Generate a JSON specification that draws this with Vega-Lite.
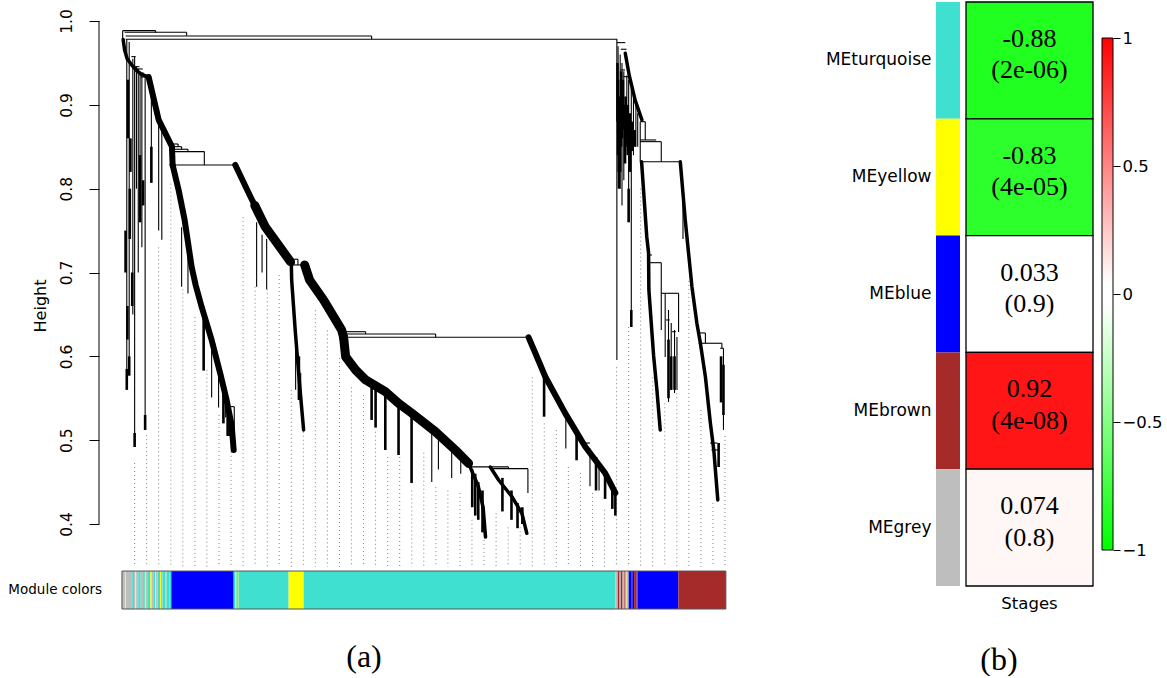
{
  "$schema": "https://vega.github.io/schema/vega-lite/v6.json",
  "background": "white",
  "padding": {"left": 8, "top": 1, "right": 5, "bottom": 0},
  "autosize": {"type": "pad"},
  "config": {
    "view": {"stroke": null},
    "axis": {"labelFont": "DejaVu Sans", "titleFont": "DejaVu Sans", "labelColor": "black", "titleColor": "black"}
  },
  "datasets": {
    "guides": [
      {"p": 21, "h": 0.4728}, {"p": 41, "h": 0.506}, {"p": 60.9, "h": 0.73}, {"p": 80.9, "h": 0.806},
      {"p": 100.8, "h": 0.68}, {"p": 120.8, "h": 0.647}, {"p": 140.7, "h": 0.584}, {"p": 160.7, "h": 0.53},
      {"p": 180.6, "h": 0.486}, {"p": 200.6, "h": 0.766}, {"p": 220.5, "h": 0.683}, {"p": 240.5, "h": 0.68},
      {"p": 260.4, "h": 0.697}, {"p": 280.4, "h": 0.56}, {"p": 300.3, "h": 0.51}, {"p": 320.3, "h": 0.655},
      {"p": 340.2, "h": 0.631}, {"p": 360.2, "h": 0.598}, {"p": 380.1, "h": 0.563}, {"p": 400.1, "h": 0.554},
      {"p": 420, "h": 0.51}, {"p": 440, "h": 0.48}, {"p": 459.9, "h": 0.48}, {"p": 479.9, "h": 0.44},
      {"p": 499.8, "h": 0.485}, {"p": 519.8, "h": 0.444}, {"p": 539.7, "h": 0.44}, {"p": 559.7, "h": 0.437},
      {"p": 579.6, "h": 0.405}, {"p": 599.6, "h": 0.381}, {"p": 619.5, "h": 0.413}, {"p": 639.5, "h": 0.396},
      {"p": 659.4, "h": 0.396}, {"p": 679.4, "h": 0.575}, {"p": 699.3, "h": 0.52}, {"p": 719.3, "h": 0.512},
      {"p": 739.2, "h": 0.468}, {"p": 759.2, "h": 0.461}, {"p": 779.1, "h": 0.437}, {"p": 799.1, "h": 0.417},
      {"p": 819, "h": 0.587}, {"p": 839, "h": 0.635}, {"p": 858.9, "h": 0.8}, {"p": 878.9, "h": 0.575},
      {"p": 898.8, "h": 0.544}, {"p": 918.8, "h": 0.556}, {"p": 938.7, "h": 0.69}, {"p": 958.7, "h": 0.536},
      {"p": 978.6, "h": 0.425}, {"p": 998.6, "h": 0.505}
    ],
    "links": [
      {"p": 1.2, "h": 0.9885, "p2": 55.8, "h2": 0.9885},
      {"p": 1.2, "h": 0.9885, "p2": 1.2, "h2": 0.972},
      {"p": 55.8, "h": 0.9885, "p2": 55.8, "h2": 0.986},
      {"p": 4.5, "h": 0.9866, "p2": 107.1, "h2": 0.9866},
      {"p": 107.1, "h": 0.9866, "p2": 107.1, "h2": 0.9825},
      {"p": 6.1, "h": 0.9822, "p2": 413.4, "h2": 0.9822},
      {"p": 413.4, "h": 0.9822, "p2": 413.4, "h2": 0.9782},
      {"p": 6.1, "h": 0.9782, "p2": 820, "h2": 0.9782},
      {"p": 8, "h": 0.978, "p2": 8, "h2": 0.56},
      {"p": 12, "h": 0.975, "p2": 12, "h2": 0.577},
      {"p": 18, "h": 0.955, "p2": 18, "h2": 0.65},
      {"p": 21, "h": 0.9575, "p2": 21, "h2": 0.4919},
      {"p": 24, "h": 0.945, "p2": 24, "h2": 0.8},
      {"p": 27, "h": 0.943, "p2": 27, "h2": 0.7},
      {"p": 30, "h": 0.94, "p2": 30, "h2": 0.76},
      {"p": 33, "h": 0.938, "p2": 33, "h2": 0.73},
      {"p": 38.4, "h": 0.936, "p2": 38.4, "h2": 0.5122},
      {"p": 48.7, "h": 0.925, "p2": 48.7, "h2": 0.807},
      {"p": 60.8, "h": 0.894, "p2": 60.8, "h2": 0.75},
      {"p": 66, "h": 0.875, "p2": 66, "h2": 0.739},
      {"p": 15.6, "h": 0.9575, "p2": 22.7, "h2": 0.9575},
      {"p": 17.7, "h": 0.9455, "p2": 28.8, "h2": 0.9455},
      {"p": 25, "h": 0.9428, "p2": 34.3, "h2": 0.9428},
      {"p": 28.8, "h": 0.938, "p2": 35.9, "h2": 0.938},
      {"p": 31, "h": 0.9332, "p2": 44.2, "h2": 0.9332},
      {"p": 82.8, "h": 0.8533, "p2": 93, "h2": 0.8533},
      {"p": 93, "h": 0.8533, "p2": 93, "h2": 0.8501},
      {"p": 84, "h": 0.8501, "p2": 98.8, "h2": 0.8501},
      {"p": 98.8, "h": 0.8501, "p2": 98.8, "h2": 0.847},
      {"p": 86, "h": 0.847, "p2": 109.3, "h2": 0.847},
      {"p": 109.3, "h": 0.847, "p2": 109.3, "h2": 0.8442},
      {"p": 84, "h": 0.8442, "p2": 136.4, "h2": 0.8442},
      {"p": 136.4, "h": 0.8442, "p2": 136.4, "h2": 0.8283},
      {"p": 83.9, "h": 0.8283, "p2": 187.7, "h2": 0.8283},
      {"p": 98.8, "h": 0.754, "p2": 98.8, "h2": 0.683},
      {"p": 109.3, "h": 0.731, "p2": 109.3, "h2": 0.675},
      {"p": 148.5, "h": 0.617, "p2": 148.5, "h2": 0.551},
      {"p": 160, "h": 0.58, "p2": 160, "h2": 0.539},
      {"p": 171.7, "h": 0.556, "p2": 171.7, "h2": 0.527},
      {"p": 146, "h": 0.617, "p2": 152, "h2": 0.617},
      {"p": 178, "h": 0.54, "p2": 186, "h2": 0.54},
      {"p": 186, "h": 0.54, "p2": 186, "h2": 0.51},
      {"p": 223, "h": 0.76, "p2": 223, "h2": 0.683},
      {"p": 232, "h": 0.745, "p2": 232, "h2": 0.7},
      {"p": 239.6, "h": 0.74, "p2": 239.6, "h2": 0.68},
      {"p": 278.8, "h": 0.7158, "p2": 291.4, "h2": 0.7158},
      {"p": 291.4, "h": 0.7158, "p2": 291.4, "h2": 0.709},
      {"p": 280.5, "h": 0.709, "p2": 302.5, "h2": 0.709},
      {"p": 287.6, "h": 0.62, "p2": 287.6, "h2": 0.56},
      {"p": 296, "h": 0.58, "p2": 296, "h2": 0.555},
      {"p": 363.7, "h": 0.6294, "p2": 403.5, "h2": 0.6294},
      {"p": 403.5, "h": 0.6294, "p2": 403.5, "h2": 0.6267},
      {"p": 367, "h": 0.6267, "p2": 519.4, "h2": 0.6267},
      {"p": 519.4, "h": 0.6267, "p2": 519.4, "h2": 0.6227},
      {"p": 367, "h": 0.6227, "p2": 673.3, "h2": 0.6227},
      {"p": 571, "h": 0.4682, "p2": 640, "h2": 0.4682},
      {"p": 640, "h": 0.4682, "p2": 640, "h2": 0.466},
      {"p": 610, "h": 0.466, "p2": 672.2, "h2": 0.466},
      {"p": 672.2, "h": 0.466, "p2": 672.2, "h2": 0.437},
      {"p": 513, "h": 0.51, "p2": 513, "h2": 0.45},
      {"p": 524, "h": 0.5, "p2": 524, "h2": 0.465},
      {"p": 546, "h": 0.49, "p2": 546, "h2": 0.455},
      {"p": 561, "h": 0.48, "p2": 561, "h2": 0.46},
      {"p": 735, "h": 0.53, "p2": 735, "h2": 0.49},
      {"p": 775, "h": 0.49, "p2": 775, "h2": 0.445},
      {"p": 790, "h": 0.475, "p2": 790, "h2": 0.44},
      {"p": 767, "h": 0.4966, "p2": 775, "h2": 0.4966},
      {"p": 819.5, "h": 0.9782, "p2": 819.5, "h2": 0.5957},
      {"p": 819.5, "h": 0.9742, "p2": 833.4, "h2": 0.9742},
      {"p": 826, "h": 0.9663, "p2": 835.5, "h2": 0.9663},
      {"p": 825, "h": 0.9416, "p2": 833, "h2": 0.9416},
      {"p": 830, "h": 0.9336, "p2": 838.8, "h2": 0.9336},
      {"p": 821.5, "h": 0.97, "p2": 821.5, "h2": 0.82},
      {"p": 825, "h": 0.96, "p2": 825, "h2": 0.8},
      {"p": 828, "h": 0.95, "p2": 828, "h2": 0.78},
      {"p": 831, "h": 0.94, "p2": 831, "h2": 0.81},
      {"p": 836, "h": 0.935, "p2": 836, "h2": 0.86},
      {"p": 839, "h": 0.93, "p2": 839, "h2": 0.76},
      {"p": 843.4, "h": 0.92, "p2": 843.4, "h2": 0.635},
      {"p": 847, "h": 0.91, "p2": 847, "h2": 0.84},
      {"p": 851, "h": 0.9, "p2": 851, "h2": 0.85},
      {"p": 854, "h": 0.89, "p2": 854, "h2": 0.85},
      {"p": 858.2, "h": 0.8799, "p2": 866.5, "h2": 0.8799},
      {"p": 866.5, "h": 0.8799, "p2": 866.5, "h2": 0.8581},
      {"p": 858.2, "h": 0.8799, "p2": 858.2, "h2": 0.8322},
      {"p": 858.2, "h": 0.8581, "p2": 884.6, "h2": 0.8581},
      {"p": 858.2, "h": 0.8561, "p2": 893, "h2": 0.8561},
      {"p": 893, "h": 0.8561, "p2": 893, "h2": 0.8322},
      {"p": 860, "h": 0.8322, "p2": 924.5, "h2": 0.8322},
      {"p": 872, "h": 0.7209, "p2": 877.5, "h2": 0.7209},
      {"p": 872, "h": 0.7117, "p2": 893, "h2": 0.7117},
      {"p": 893, "h": 0.7117, "p2": 893, "h2": 0.6315},
      {"p": 893, "h": 0.6752, "p2": 921.7, "h2": 0.6752},
      {"p": 921.7, "h": 0.6752, "p2": 921.7, "h2": 0.6291},
      {"p": 899.5, "h": 0.6752, "p2": 899.5, "h2": 0.5992},
      {"p": 905, "h": 0.6553, "p2": 905, "h2": 0.5456},
      {"p": 909.5, "h": 0.6398, "p2": 909.5, "h2": 0.5599},
      {"p": 915, "h": 0.6315, "p2": 915, "h2": 0.5563},
      {"p": 919, "h": 0.623, "p2": 919, "h2": 0.5599},
      {"p": 901, "h": 0.6434, "p2": 907, "h2": 0.6434},
      {"p": 911, "h": 0.6294, "p2": 917, "h2": 0.6294},
      {"p": 929, "h": 0.79, "p2": 929, "h2": 0.74},
      {"p": 955, "h": 0.6279, "p2": 966.1, "h2": 0.6279},
      {"p": 966.1, "h": 0.6279, "p2": 966.1, "h2": 0.6156},
      {"p": 957.8, "h": 0.6156, "p2": 993.4, "h2": 0.6156},
      {"p": 993.4, "h": 0.6156, "p2": 993.4, "h2": 0.6096},
      {"p": 990.7, "h": 0.6096, "p2": 996, "h2": 0.6096},
      {"p": 996, "h": 0.6096, "p2": 996, "h2": 0.5122},
      {"p": 974, "h": 0.4966, "p2": 986, "h2": 0.4966},
      {"p": 976, "h": 0.4883, "p2": 988, "h2": 0.4883}
    ],
    "drips": [
      {"p": 8, "h": 0.585, "p2": 8, "h2": 0.56},
      {"p": 12, "h": 0.6, "p2": 12, "h2": 0.577},
      {"p": 10, "h": 0.93, "p2": 10, "h2": 0.86},
      {"p": 13, "h": 0.8, "p2": 13, "h2": 0.74},
      {"p": 6, "h": 0.75, "p2": 6, "h2": 0.7},
      {"p": 9, "h": 0.66, "p2": 9, "h2": 0.62},
      {"p": 14, "h": 0.86, "p2": 14, "h2": 0.82},
      {"p": 17, "h": 0.7, "p2": 17, "h2": 0.66},
      {"p": 35, "h": 0.81, "p2": 35, "h2": 0.78},
      {"p": 21, "h": 0.5086, "p2": 21, "h2": 0.4919},
      {"p": 38.4, "h": 0.53, "p2": 38.4, "h2": 0.5122},
      {"p": 48.7, "h": 0.85, "p2": 48.7, "h2": 0.807},
      {"p": 30, "h": 0.84, "p2": 30, "h2": 0.76},
      {"p": 135.3, "h": 0.655, "p2": 135.3, "h2": 0.583},
      {"p": 168, "h": 0.563, "p2": 168, "h2": 0.52},
      {"p": 175, "h": 0.545, "p2": 175, "h2": 0.505},
      {"p": 179, "h": 0.53, "p2": 179, "h2": 0.505},
      {"p": 293, "h": 0.6, "p2": 293, "h2": 0.548},
      {"p": 413.4, "h": 0.5718, "p2": 413.4, "h2": 0.5241},
      {"p": 420, "h": 0.565, "p2": 420, "h2": 0.515},
      {"p": 436.1, "h": 0.5599, "p2": 436.1, "h2": 0.4883},
      {"p": 458, "h": 0.548, "p2": 458, "h2": 0.4823},
      {"p": 479.6, "h": 0.5324, "p2": 479.6, "h2": 0.4489},
      {"p": 580, "h": 0.465, "p2": 580, "h2": 0.42},
      {"p": 585, "h": 0.46, "p2": 585, "h2": 0.41},
      {"p": 590, "h": 0.45, "p2": 590, "h2": 0.405},
      {"p": 597, "h": 0.44, "p2": 597, "h2": 0.39},
      {"p": 630, "h": 0.455, "p2": 630, "h2": 0.415},
      {"p": 645, "h": 0.44, "p2": 645, "h2": 0.405},
      {"p": 655, "h": 0.425, "p2": 655, "h2": 0.395},
      {"p": 663, "h": 0.42, "p2": 663, "h2": 0.4},
      {"p": 699, "h": 0.575, "p2": 699, "h2": 0.528},
      {"p": 752.8, "h": 0.51, "p2": 752.8, "h2": 0.476},
      {"p": 785, "h": 0.48, "p2": 785, "h2": 0.44},
      {"p": 800, "h": 0.46, "p2": 800, "h2": 0.43},
      {"p": 812, "h": 0.447, "p2": 812, "h2": 0.418},
      {"p": 817, "h": 0.437, "p2": 817, "h2": 0.41},
      {"p": 843.4, "h": 0.6553, "p2": 843.4, "h2": 0.635},
      {"p": 820.5, "h": 0.95, "p2": 820.5, "h2": 0.88},
      {"p": 821.5, "h": 0.93, "p2": 821.5, "h2": 0.84},
      {"p": 823, "h": 0.88, "p2": 823, "h2": 0.8},
      {"p": 825, "h": 0.91, "p2": 825, "h2": 0.82},
      {"p": 826.5, "h": 0.94, "p2": 826.5, "h2": 0.85},
      {"p": 828, "h": 0.92, "p2": 828, "h2": 0.86},
      {"p": 829.5, "h": 0.93, "p2": 829.5, "h2": 0.87},
      {"p": 833, "h": 0.9, "p2": 833, "h2": 0.83},
      {"p": 834, "h": 0.91, "p2": 834, "h2": 0.85},
      {"p": 837.5, "h": 0.9, "p2": 837.5, "h2": 0.84},
      {"p": 839, "h": 0.8, "p2": 839, "h2": 0.76},
      {"p": 841, "h": 0.89, "p2": 841, "h2": 0.82},
      {"p": 845, "h": 0.88, "p2": 845, "h2": 0.845},
      {"p": 849, "h": 0.87, "p2": 849, "h2": 0.85},
      {"p": 905, "h": 0.62, "p2": 905, "h2": 0.55},
      {"p": 909.5, "h": 0.6, "p2": 909.5, "h2": 0.56},
      {"p": 915, "h": 0.6, "p2": 915, "h2": 0.56},
      {"p": 992, "h": 0.6, "p2": 992, "h2": 0.545},
      {"p": 996, "h": 0.59, "p2": 996, "h2": 0.53},
      {"p": 988, "h": 0.4966, "p2": 988, "h2": 0.468}
    ],
    "bandsWide": [
      {"id": "B0", "p": 220, "h": 0.78}, {"id": "B0", "p": 237.4, "h": 0.7543}, {"id": "B0", "p": 264.9, "h": 0.7269}, {"id": "B0", "p": 279, "h": 0.713},
      {"id": "B2", "p": 302.5, "h": 0.709}, {"id": "B2", "p": 310.7, "h": 0.6911}, {"id": "B2", "p": 333.9, "h": 0.6672}, {"id": "B2", "p": 363.7, "h": 0.6315}, {"id": "B2", "p": 367, "h": 0.6227},
      {"id": "L", "p": 367, "h": 0.6227}, {"id": "L", "p": 370.4, "h": 0.5996}, {"id": "L", "p": 387, "h": 0.5837}, {"id": "L", "p": 403.5, "h": 0.5718}, {"id": "L", "p": 436.1, "h": 0.5579}, {"id": "L", "p": 458.1, "h": 0.544}, {"id": "L", "p": 479.6, "h": 0.5324}, {"id": "L", "p": 518.9, "h": 0.5102}, {"id": "L", "p": 552, "h": 0.4883}, {"id": "L", "p": 574, "h": 0.4724}
    ],
    "bands": [
      {"id": "A0", "p": 44.2, "h": 0.9332}, {"id": "A0", "p": 60.8, "h": 0.882}, {"id": "A0", "p": 74.6, "h": 0.862}, {"id": "A0", "p": 82.8, "h": 0.8501}, {"id": "A0", "p": 83.9, "h": 0.8283},
      {"id": "A1", "p": 83.9, "h": 0.8283}, {"id": "A1", "p": 93.8, "h": 0.7985}, {"id": "A1", "p": 103.8, "h": 0.7627}, {"id": "A1", "p": 115.4, "h": 0.7066}, {"id": "A1", "p": 122, "h": 0.6851}, {"id": "A1", "p": 132, "h": 0.6589}, {"id": "A1", "p": 148.5, "h": 0.6195}, {"id": "A1", "p": 163.4, "h": 0.5778}, {"id": "A1", "p": 173.3, "h": 0.5479}, {"id": "A1", "p": 181.6, "h": 0.5181}, {"id": "A1", "p": 185, "h": 0.4883},
      {"id": "B0", "p": 187.7, "h": 0.8283}, {"id": "B0", "p": 209.8, "h": 0.7949}, {"id": "B0", "p": 237.4, "h": 0.7543}, {"id": "B0", "p": 264.9, "h": 0.7269}, {"id": "B0", "p": 281.1, "h": 0.7114},
      {"id": "R", "p": 673.3, "h": 0.6227}, {"id": "R", "p": 684.4, "h": 0.604}, {"id": "R", "p": 701, "h": 0.5757}, {"id": "R", "p": 734.1, "h": 0.532}, {"id": "R", "p": 767.2, "h": 0.4922}, {"id": "R", "p": 800.3, "h": 0.4605}, {"id": "R", "p": 817, "h": 0.437}
    ],
    "bandsThin": [
      {"id": "S0", "p": 2, "h": 0.978}, {"id": "S0", "p": 4.5, "h": 0.965}, {"id": "S0", "p": 8.6, "h": 0.955}, {"id": "S0", "p": 15.6, "h": 0.948}, {"id": "S0", "p": 22.7, "h": 0.942}, {"id": "S0", "p": 31, "h": 0.937}, {"id": "S0", "p": 44.2, "h": 0.9332},
      {"id": "B1", "p": 280.5, "h": 0.709}, {"id": "B1", "p": 281, "h": 0.6911}, {"id": "B1", "p": 287, "h": 0.63}, {"id": "B1", "p": 293.5, "h": 0.5718}, {"id": "B1", "p": 300.8, "h": 0.5122},
      {"id": "Ls", "p": 609.9, "h": 0.468}, {"id": "Ls", "p": 623.7, "h": 0.4525}, {"id": "Ls", "p": 645.7, "h": 0.4326}, {"id": "Ls", "p": 662.2, "h": 0.4128}, {"id": "Ls", "p": 670.4, "h": 0.3889},
      {"id": "Lb", "p": 574, "h": 0.4724}, {"id": "Lb", "p": 590, "h": 0.445}, {"id": "Lb", "p": 598, "h": 0.42}, {"id": "Lb", "p": 602, "h": 0.3845},
      {"id": "Rt", "p": 833.4, "h": 0.9615}, {"id": "Rt", "p": 840, "h": 0.935}, {"id": "Rt", "p": 850, "h": 0.905}, {"id": "Rt", "p": 861, "h": 0.882},
      {"id": "Rl", "p": 860.4, "h": 0.8322}, {"id": "Rl", "p": 869, "h": 0.7427}, {"id": "Rl", "p": 872, "h": 0.7233}, {"id": "Rl", "p": 872.5, "h": 0.6792}, {"id": "Rl", "p": 880.3, "h": 0.601}, {"id": "Rl", "p": 885.8, "h": 0.5599}, {"id": "Rl", "p": 891.3, "h": 0.5122},
      {"id": "Rr", "p": 924.5, "h": 0.8322}, {"id": "Rr", "p": 932.7, "h": 0.7627}, {"id": "Rr", "p": 938.2, "h": 0.7233}, {"id": "Rr", "p": 943.8, "h": 0.6831}, {"id": "Rr", "p": 952, "h": 0.6394}, {"id": "Rr", "p": 957.8, "h": 0.6156},
      {"id": "Rr2", "p": 957.8, "h": 0.6156}, {"id": "Rr2", "p": 966.1, "h": 0.5757}, {"id": "Rr2", "p": 974.4, "h": 0.5201}, {"id": "Rr2", "p": 980, "h": 0.4883}, {"id": "Rr2", "p": 986.6, "h": 0.4287}
    ],
    "strip": [
      {"s": 0, "e": 5, "m": "grey"}, {"s": 5, "e": 6.5, "m": "yellow"}, {"s": 6.5, "e": 17, "m": "grey"},
      {"s": 17, "e": 20, "m": "turquoise"}, {"s": 20, "e": 22, "m": "grey"}, {"s": 22, "e": 23.5, "m": "yellow"},
      {"s": 23.5, "e": 27, "m": "grey"}, {"s": 27, "e": 31, "m": "turquoise"}, {"s": 31, "e": 35, "m": "grey"},
      {"s": 35, "e": 38, "m": "turquoise"}, {"s": 38, "e": 39.5, "m": "yellow"}, {"s": 39.5, "e": 43, "m": "grey"},
      {"s": 43, "e": 47, "m": "turquoise"}, {"s": 47, "e": 49, "m": "yellow"}, {"s": 49, "e": 52, "m": "grey"},
      {"s": 52, "e": 55, "m": "turquoise"}, {"s": 55, "e": 56.5, "m": "yellow"}, {"s": 56.5, "e": 59, "m": "grey"},
      {"s": 59, "e": 63, "m": "turquoise"}, {"s": 63, "e": 64.5, "m": "yellow"}, {"s": 64.5, "e": 67, "m": "grey"},
      {"s": 67, "e": 72, "m": "turquoise"}, {"s": 72, "e": 74, "m": "grey"}, {"s": 74, "e": 78, "m": "turquoise"},
      {"s": 78, "e": 79.5, "m": "grey"}, {"s": 79.5, "e": 81.8, "m": "turquoise"},
      {"s": 81.8, "e": 185, "m": "blue"},
      {"s": 185, "e": 188, "m": "turquoise"}, {"s": 188, "e": 189.5, "m": "yellow"}, {"s": 189.5, "e": 192, "m": "turquoise"},
      {"s": 192, "e": 193, "m": "yellow"}, {"s": 193, "e": 276, "m": "turquoise"},
      {"s": 276, "e": 300.8, "m": "yellow"},
      {"s": 300.8, "e": 817, "m": "turquoise"},
      {"s": 817, "e": 821, "m": "grey"}, {"s": 821, "e": 824, "m": "brown"}, {"s": 824, "e": 826, "m": "grey"},
      {"s": 826, "e": 829, "m": "brown"}, {"s": 829, "e": 832, "m": "grey"}, {"s": 832, "e": 834, "m": "brown"},
      {"s": 834, "e": 835.5, "m": "yellow"}, {"s": 835.5, "e": 839, "m": "grey"}, {"s": 839, "e": 843, "m": "blue"},
      {"s": 843, "e": 845, "m": "brown"}, {"s": 845, "e": 848, "m": "blue"}, {"s": 848, "e": 850, "m": "brown"},
      {"s": 850, "e": 852, "m": "blue"}, {"s": 852, "e": 854, "m": "brown"},
      {"s": 854, "e": 921.4, "m": "blue"},
      {"s": 921.4, "e": 1000, "m": "brown"}
    ],
    "heat": [
      {"me": "MEturquoise", "module": "turquoise", "trait": "Stages", "cor": -0.88, "lab": "-0.88\n(2e-06)"},
      {"me": "MEyellow", "module": "yellow", "trait": "Stages", "cor": -0.83, "lab": "-0.83\n(4e-05)"},
      {"me": "MEblue", "module": "blue", "trait": "Stages", "cor": 0.033, "lab": "0.033\n(0.9)"},
      {"me": "MEbrown", "module": "brown", "trait": "Stages", "cor": 0.92, "lab": "0.92\n(4e-08)"},
      {"me": "MEgrey", "module": "grey", "trait": "Stages", "cor": 0.074, "lab": "0.074\n(0.8)"}
    ]
  },
  "spacing": 6,
  "bounds": "flush",
  "hconcat": [
    {
      "width": 831,
      "height": 607,
      "title": {"text": "(a)", "orient": "bottom", "anchor": "middle", "frame": "group", "dx": -150.5, "offset": 32, "font": "Liberation Serif", "fontSize": 32, "fontWeight": "normal", "color": "black"},
      "layer": [
        {
          "data": {"name": "guides"},
          "mark": {"type": "rule", "stroke": "#808080", "strokeWidth": 1, "strokeDash": [1, 3]},
          "encoding": {
            "x": {"field": "p", "type": "quantitative", "scale": {"domain": [-38, 1338], "nice": false, "zero": false}, "axis": null},
            "y": {
              "field": "h", "type": "quantitative",
              "scale": {"domain": [0.29861, 1.02267], "nice": false, "zero": false},
              "axis": {
                "title": "Height", "values": [0.4, 0.5, 0.6, 0.7, 0.8, 0.9, 1.0], "format": ".1f",
                "labelAngle": 270, "labelAlign": "center", "labelBaseline": "bottom", "labelOverlap": false,
                "labelFontSize": 15.5, "labelPadding": 15, "tickSize": 10, "tickColor": "black", "tickWidth": 1,
                "domain": false, "grid": false, "titleFontSize": 16, "titleFontWeight": "normal", "titlePadding": 11
              }
            },
            "y2": {"datum": 0.349}
          }
        },
        {
          "data": {"name": "links"},
          "mark": {"type": "rule", "stroke": "black", "strokeWidth": 1.1},
          "encoding": {
            "x": {"field": "p", "type": "quantitative"}, "x2": {"field": "p2"},
            "y": {"field": "h", "type": "quantitative"}, "y2": {"field": "h2"}
          }
        },
        {
          "data": {"name": "drips"},
          "mark": {"type": "rule", "stroke": "black", "strokeWidth": 2.6},
          "encoding": {
            "x": {"field": "p", "type": "quantitative"}, "x2": {"field": "p2"},
            "y": {"field": "h", "type": "quantitative"}, "y2": {"field": "h2"}
          }
        },
        {
          "data": {"name": "bandsWide"},
          "mark": {"type": "line", "color": "black", "strokeWidth": 9, "strokeCap": "round", "strokeJoin": "round"},
          "encoding": {
            "x": {"field": "p", "type": "quantitative"}, "y": {"field": "h", "type": "quantitative"},
            "detail": {"field": "id"}, "order": {"field": "h", "sort": "descending"}
          }
        },
        {
          "data": {"name": "bands"},
          "mark": {"type": "line", "color": "black", "strokeWidth": 6, "strokeCap": "round", "strokeJoin": "round"},
          "encoding": {
            "x": {"field": "p", "type": "quantitative"}, "y": {"field": "h", "type": "quantitative"},
            "detail": {"field": "id"}, "order": {"field": "h", "sort": "descending"}
          }
        },
        {
          "data": {"name": "bandsThin"},
          "mark": {"type": "line", "color": "black", "strokeWidth": 3.5, "strokeCap": "round", "strokeJoin": "round"},
          "encoding": {
            "x": {"field": "p", "type": "quantitative"}, "y": {"field": "h", "type": "quantitative"},
            "detail": {"field": "id"}, "order": {"field": "h", "sort": "descending"}
          }
        },
        {
          "data": {"name": "strip"},
          "mark": {"type": "rect"},
          "encoding": {
            "x": {"field": "s", "type": "quantitative"}, "x2": {"field": "e"},
            "y": {"datum": 0.3439}, "y2": {"datum": 0.29861},
            "fill": {
              "field": "m", "type": "nominal", "legend": null,
              "scale": {"domain": ["turquoise", "yellow", "blue", "brown", "grey"], "range": ["#40E0D0", "#FFFF00", "#0000FF", "#A52A2A", "#BEBEBE"]}
            }
          }
        },
        {
          "data": {"values": [{}]},
          "mark": {"type": "rect", "fill": null, "stroke": "#555555", "strokeWidth": 1},
          "encoding": {"x": {"datum": 0}, "x2": {"datum": 1000}, "y": {"datum": 0.3439}, "y2": {"datum": 0.29861}}
        },
        {
          "data": {"values": [{}]},
          "mark": {"type": "text", "text": "Module colors", "align": "right", "baseline": "middle", "dx": 3, "font": "DejaVu Sans", "fontSize": 13.5, "color": "black"},
          "encoding": {"x": {"datum": -38}, "y": {"datum": 0.3212}}
        },
        {
          "data": {"values": [{}]},
          "mark": {"type": "rule", "color": "black", "strokeWidth": 1},
          "encoding": {"x": {"datum": -38}, "y": {"datum": 0.4}, "y2": {"datum": 1.0}}
        }
      ]
    },
    {
      "width": 24,
      "height": 584,
      "data": {"name": "heat"},
      "mark": {"type": "rect"},
      "encoding": {
        "y": {
          "field": "me", "type": "nominal", "sort": null,
          "scale": {"paddingInner": 0, "paddingOuter": 0},
          "axis": {"title": null, "ticks": false, "domain": false, "labelPadding": 5, "labelFontSize": 17}
        },
        "fill": {
          "field": "module", "type": "nominal", "legend": null,
          "scale": {"domain": ["turquoise", "yellow", "blue", "brown", "grey"], "range": ["#40E0D0", "#FFFF00", "#0000FF", "#A52A2A", "#BEBEBE"]}
        }
      }
    },
    {
      "spacing": 9,
      "bounds": "flush",
      "hconcat": [
        {
          "width": 127,
          "height": 584,
          "data": {"name": "heat"},
          "title": {"text": "(b)", "orient": "bottom", "anchor": "middle", "frame": "group", "dx": -30.5, "offset": 33, "font": "Liberation Serif", "fontSize": 32, "fontWeight": "normal", "color": "black"},
          "encoding": {
            "y": {"field": "me", "type": "nominal", "sort": null, "scale": {"paddingInner": 0, "paddingOuter": 0}, "axis": null},
            "x": {
              "field": "trait", "type": "nominal",
              "scale": {"paddingInner": 0, "paddingOuter": 0},
              "axis": {"title": null, "labelAngle": 0, "ticks": false, "domain": false, "labelPadding": 9, "labelBaseline": "top", "labelFontSize": 16.5}
            }
          },
          "layer": [
            {
              "mark": {"type": "rect", "stroke": "black", "strokeWidth": 1.3},
              "encoding": {
                "color": {
                  "field": "cor", "type": "quantitative", "legend": null,
                  "scale": {"domain": [-1, -0.04, 0.04, 1], "range": ["#00ff00", "#ffffff", "#ffffff", "#ff0000"], "interpolate": "rgb"}
                }
              }
            },
            {
              "mark": {"type": "text", "font": "Liberation Serif", "fontSize": 26, "lineBreak": "\n", "lineHeight": 31.5, "baseline": "middle", "dy": -21.5, "color": "black"},
              "encoding": {"text": {"field": "lab"}}
            }
          ]
        },
        {
          "width": 11,
          "height": 548,
          "data": {"values": [{}]},
          "mark": {
            "type": "rect", "stroke": "black", "strokeWidth": 1,
            "fill": {"gradient": "linear", "x1": 0, "y1": 1, "x2": 0, "y2": 0,
              "stops": [{"offset": 0, "color": "#00ff00"}, {"offset": 0.48, "color": "#ffffff"}, {"offset": 0.52, "color": "#ffffff"}, {"offset": 1, "color": "#ff0000"}]}
          },
          "encoding": {
            "y": {
              "datum": -1, "type": "quantitative",
              "scale": {"domain": [-1, 1.140625], "nice": false, "zero": false},
              "axis": {"orient": "right", "values": [-1, -0.5, 0, 0.5, 1], "format": "~g", "title": null, "domain": false, "grid": false,
                "tickSize": 7, "tickColor": "black", "labelPadding": 2, "labelFontSize": 16.5, "labelBaseline": "middle"}
            },
            "y2": {"datum": 1}
          }
        }
      ]
    }
  ]
}
